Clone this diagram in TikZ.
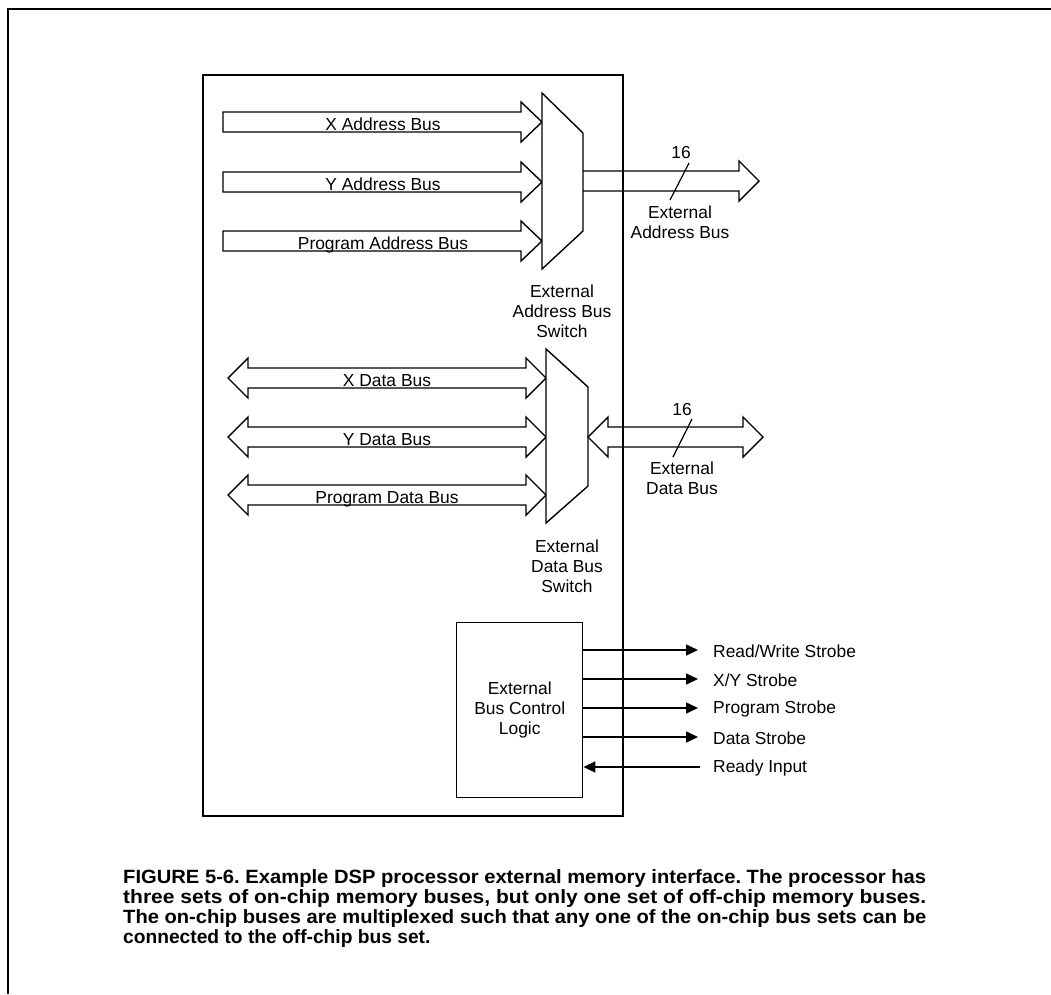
\documentclass[tikz,border=0pt]{standalone}
\usepackage{graphicx}
\usepackage{fontspec}
\setmainfont{Liberation Sans}
\usetikzlibrary{arrows.meta}
\newcommand\capline[1]{\resizebox{803pt}{\height}{#1}}
\begin{document}
\begin{tikzpicture}[x=1pt,y=-1pt,
  lbl/.style={font=\fontsize{17.4}{20}\selectfont, inner sep=0pt, align=center},
  bus/.style={draw, line width=1.4pt, line join=miter},
  frm/.style={draw, line width=1.8pt},
  sig/.style={line width=1.6pt, -{Triangle[length=12pt,width=11pt]}}]
\useasboundingbox (0,0) rectangle (1051,994);
% outer frame
\draw[line width=1.8pt] (1051,9) -- (8,9) -- (8,994);
% chip
\node[frm, anchor=north west, minimum width=420pt, minimum height=741pt, inner sep=0pt] (chip) at (202,74) {};
% address buses
\foreach \y/\t [count=\i] in {122/X Address Bus,182/Y Address Bus,241/Program Address Bus}{
  \draw[bus, fill=white, shift={(223,\y)}] (0,-10) -- (298,-10) -- (298,-20) -- (319,0) -- (298,20) -- (298,10) -- (0,10) -- cycle;
  \node[lbl, anchor=base] (ab\i) at (383,\y+8) {\t};
}
% data buses
\foreach \y/\t [count=\i] in {378/X Data Bus,437/Y Data Bus,495/Program Data Bus}{
  \draw[bus, fill=white, shift={(228,\y)}] (0,0) -- (20,-20) -- (20,-10) -- (298,-10) -- (298,-20) -- (318,0) -- (298,20) -- (298,10) -- (20,10) -- (20,20) -- cycle;
  \node[lbl, anchor=base] (db\i) at (387,\y+8) {\t};
}
% switches
\draw[bus, fill=white] (542,93) -- (583,133) -- (583,231) -- (542,269) -- cycle;
\draw[bus, fill=white] (546,349) -- (588,387) -- (588,486) -- (546,523) -- cycle;
\node[lbl] (asw) at (562,311) {External\\Address Bus\\Switch};
\node[lbl] (dsw) at (567,566) {External\\Data Bus\\Switch};
% external address bus
\draw[bus] (583,171) -- (739,171) -- (739,161) -- (759,181) -- (739,201) -- (739,191) -- (583,191);
\node[lbl] (n16a) at (681,153) {16};
\draw[line width=1.2pt] (689,163) -- (670,200);
\node[lbl] (eab) at (680,222) {External\\Address Bus};
% external data bus
\draw[bus] (588,437) -- (608,417) -- (608,427) -- (743,427) -- (743,417) -- (763,437) -- (743,457) -- (743,447) -- (608,447) -- (608,457) -- cycle;
\node[lbl] (n16b) at (682,409) {16};
\draw[line width=1.2pt] (692,419) -- (673,457);
\node[lbl] (edb) at (682,478) {External\\Data Bus};
% control logic
\node[draw, line width=1.4pt, minimum width=126pt, minimum height=175pt, anchor=north west, lbl] (ctl) at (456,622) {External\\Bus Control\\Logic};
\coordinate (s1) at (698,650);
\coordinate (s2) at (698,679);
\coordinate (s3) at (698,708);
\coordinate (s4) at (698,737);
\coordinate (s5) at (700,767);
\draw[sig] (ctl.east |- s1) -- (s1);
\draw[sig] (ctl.east |- s2) -- (s2);
\draw[sig] (ctl.east |- s3) -- (s3);
\draw[sig] (ctl.east |- s4) -- (s4);
\draw[sig] (s5) -- (ctl.east |- s5);
\node[lbl, anchor=west] (t1) at (713,651) {Read/Write Strobe};
\node[lbl, anchor=west] (t2) at (713,680) {X/Y Strobe};
\node[lbl, anchor=west] (t3) at (713,709) {Program Strobe};
\node[lbl, anchor=west] (t4) at (713,738) {Data Strobe};
\node[lbl, anchor=west] (t5) at (713,768) {Ready Input};
% caption
\node[anchor=north west, inner sep=0pt, align=left,
      font=\bfseries\fontsize{19.2}{20}\selectfont] (cap) at (123,869)
  {\capline{\frenchspacing FIGURE 5-6. Example DSP processor external memory interface. The processor has}\\
   \capline{\frenchspacing three sets of on-chip memory buses, but only one set of off-chip memory buses.}\\
   \capline{\frenchspacing The on-chip buses are multiplexed such that any one of the on-chip bus sets can be}\\
   connected to the off-chip bus set.};
\end{tikzpicture}
\end{document}
